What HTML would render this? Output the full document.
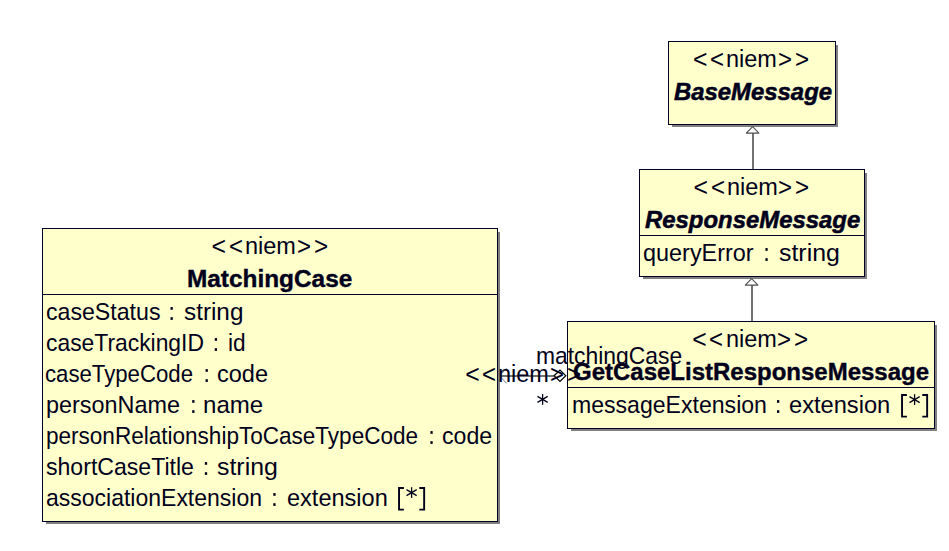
<!DOCTYPE html>
<html><head><meta charset="utf-8"><style>
html,body{margin:0;padding:0;background:#fff;width:949px;height:551px;overflow:hidden;position:relative}
.t{position:absolute;font-family:"Liberation Sans",sans-serif;font-size:24.8px;line-height:1;white-space:pre;color:#00001c;transform-origin:0 0}
.b{position:absolute;box-sizing:border-box;border:1px solid #000028;background:#ffffcc}
.s{position:absolute;background:#808080}
.d{position:absolute;height:1px;background:#000028}
svg{position:absolute;left:0;top:0}
</style></head><body>

<div class="s" style="left:836px;top:45px;width:2px;height:82px"></div>
<div class="s" style="left:672px;top:125px;width:166px;height:2px"></div>
<div class="b" style="left:668px;top:41px;width:168px;height:84px"></div>
<div class="s" style="left:865px;top:173px;width:2px;height:106px"></div>
<div class="s" style="left:643px;top:277px;width:224px;height:2px"></div>
<div class="b" style="left:639px;top:169px;width:226px;height:108px"></div>
<div class="d" style="left:639px;top:235px;width:226px"></div>
<div class="s" style="left:498px;top:232px;width:2px;height:292px"></div>
<div class="s" style="left:46px;top:522px;width:454px;height:2px"></div>
<div class="b" style="left:42px;top:228px;width:456px;height:294px"></div>
<div class="d" style="left:42px;top:294px;width:456px"></div>
<div class="s" style="left:935px;top:325px;width:2px;height:106px"></div>
<div class="s" style="left:571px;top:429px;width:366px;height:2px"></div>
<div class="b" style="left:567px;top:321px;width:368px;height:108px"></div>
<div class="d" style="left:567px;top:387px;width:368px"></div>
<div class="t" style="left:693.10px;top:46.60px;transform:scale(1.0000,1.0667)">&lt;</div>
<div class="t" style="left:710.23px;top:46.60px;transform:scale(0.9692,1.0667)">&lt;</div>
<div class="t" style="left:726.35px;top:47.00px;transform:scaleX(0.9471)">niem</div>
<div class="t" style="left:778.13px;top:46.60px;transform:scale(0.9692,1.0667)">&gt;</div>
<div class="t" style="left:795.12px;top:46.60px;transform:scale(0.9769,1.0667)">&gt;</div>
<div class="t" style="left:674.00px;top:80.00px;font-weight:bold;font-style:italic;-webkit-text-stroke:0.55px #00001c;transform:scaleX(0.9634)">BaseMessage</div>
<div class="t" style="left:693.40px;top:174.60px;transform:scale(1.0000,1.0667)">&lt;</div>
<div class="t" style="left:710.53px;top:174.60px;transform:scale(0.9692,1.0667)">&lt;</div>
<div class="t" style="left:726.65px;top:175.00px;transform:scaleX(0.9471)">niem</div>
<div class="t" style="left:778.43px;top:174.60px;transform:scale(0.9692,1.0667)">&gt;</div>
<div class="t" style="left:795.42px;top:174.60px;transform:scale(0.9769,1.0667)">&gt;</div>
<div class="t" style="left:645.00px;top:208.00px;font-weight:bold;font-style:italic;-webkit-text-stroke:0.55px #00001c;transform:scaleX(0.9641)">ResponseMessage</div>
<div class="t" style="left:642.56px;top:241.00px;transform:scaleX(0.9448)">queryError</div>
<div class="t" style="left:779.10px;top:241.00px;transform:scaleX(1.0034)">string</div>
<div class="t" style="left:211.50px;top:233.60px;transform:scale(1.0000,1.0667)">&lt;</div>
<div class="t" style="left:228.63px;top:233.60px;transform:scale(0.9692,1.0667)">&lt;</div>
<div class="t" style="left:244.75px;top:234.00px;transform:scaleX(0.9471)">niem</div>
<div class="t" style="left:296.53px;top:233.60px;transform:scale(0.9692,1.0667)">&gt;</div>
<div class="t" style="left:313.52px;top:233.60px;transform:scale(0.9769,1.0667)">&gt;</div>
<div class="t" style="left:186.52px;top:267.00px;font-weight:bold;-webkit-text-stroke:0.4px #00001c;transform:scaleX(0.9832)">MatchingCase</div>
<div class="t" style="left:45.67px;top:300.00px;transform:scaleX(0.9331)">caseStatus</div>
<div class="t" style="left:184.02px;top:300.00px;transform:scaleX(0.9793)">string</div>
<div class="t" style="left:45.68px;top:331.00px;transform:scaleX(0.9218)">caseTrackingID</div>
<div class="t" style="left:228.29px;top:331.00px;transform:scaleX(0.9118)">id</div>
<div class="t" style="left:45.41px;top:362.00px;transform:scaleX(0.8945)">caseTypeCode</div>
<div class="t" style="left:217.35px;top:362.00px;transform:scaleX(0.9481)">code</div>
<div class="t" style="left:46.06px;top:393.00px;transform:scaleX(0.9436)">personName</div>
<div class="t" style="left:203.43px;top:393.00px;transform:scaleX(0.9700)">name</div>
<div class="t" style="left:46.09px;top:424.00px;transform:scaleX(0.9088)">personRelationshipToCaseTypeCode</div>
<div class="t" style="left:442.37px;top:424.00px;transform:scaleX(0.9327)">code</div>
<div class="t" style="left:45.67px;top:455.00px;transform:scaleX(0.9306)">shortCaseTitle</div>
<div class="t" style="left:217.10px;top:455.00px;transform:scaleX(1.0034)">string</div>
<div class="t" style="left:45.87px;top:486.00px;transform:scaleX(0.9273)">associationExtension</div>
<div class="t" style="left:287.05px;top:486.00px;transform:scaleX(0.9490)">extension</div>
<div class="t" style="left:692.30px;top:326.60px;transform:scale(1.0000,1.0667)">&lt;</div>
<div class="t" style="left:709.43px;top:326.60px;transform:scale(0.9692,1.0667)">&lt;</div>
<div class="t" style="left:725.55px;top:327.00px;transform:scaleX(0.9471)">niem</div>
<div class="t" style="left:777.33px;top:326.60px;transform:scale(0.9692,1.0667)">&gt;</div>
<div class="t" style="left:794.32px;top:326.60px;transform:scale(0.9769,1.0667)">&gt;</div>
<div class="t" style="left:572.63px;top:360.00px;font-weight:bold;-webkit-text-stroke:0.4px #00001c;transform:scaleX(0.9676)">GetCaseListResponseMessage</div>
<div class="t" style="left:571.77px;top:393.00px;transform:scaleX(0.9304)">messageExtension</div>
<div class="t" style="left:789.35px;top:393.00px;transform:scaleX(0.9538)">extension</div>
<svg width="949" height="551" viewBox="0 0 949 551">
<rect x="752" y="133" width="2" height="36" fill="#727272"/>
<rect x="751" y="285" width="2" height="36" fill="#727272"/>
<rect x="500" y="375" width="54" height="2" fill="#727272"/>
<g stroke="#505050" stroke-width="1.1" stroke-linejoin="round" fill="#fff">
<polygon points="752.6,126.6 746.3,133.1 758.9,133.1"/>
<polygon points="751.6,278.6 745.3,285.1 757.9,285.1"/>
</g>
<polyline points="506.6,368.1 499.7,375.9 506.6,383.4" stroke="#7a7a7a" stroke-width="1" fill="none"/>
<path d="M403.90000000000003,487.1 H398.1 V510.6 H403.90000000000003 V508.8 H400.0 V488.90000000000003 H403.90000000000003 Z" fill="#00001c"/><path d="M419.3,487.1 H425.1 V510.6 H419.3 V508.8 H423.20000000000005 V488.90000000000003 H419.3 Z" fill="#00001c"/><g stroke="#00001c" stroke-width="1.3" fill="none"><line x1="411.6" y1="487.20000000000005" x2="411.6" y2="498.0"/><line x1="406.5" y1="489.6" x2="416.70000000000005" y2="495.6"/><line x1="406.5" y1="495.6" x2="416.70000000000005" y2="489.6"/></g><path d="M906.9,394.1 H901.1 V417.6 H906.9 V415.8 H903.0 V395.90000000000003 H906.9 Z" fill="#00001c"/><path d="M922.3000000000001,394.1 H928.1 V417.6 H922.3000000000001 V415.8 H926.2 V395.90000000000003 H922.3000000000001 Z" fill="#00001c"/><g stroke="#00001c" stroke-width="1.3" fill="none"><line x1="914.6" y1="394.20000000000005" x2="914.6" y2="405.0"/><line x1="909.5" y1="396.6" x2="919.7" y2="402.6"/><line x1="909.5" y1="402.6" x2="919.7" y2="396.6"/></g><rect x="765.40" y="248.1" width="2.3" height="2.7" fill="#00001c"/><rect x="765.40" y="258.2" width="2.3" height="2.7" fill="#00001c"/><rect x="170.50" y="307.1" width="2.3" height="2.7" fill="#00001c"/><rect x="170.50" y="317.2" width="2.3" height="2.7" fill="#00001c"/><rect x="214.75" y="338.1" width="2.3" height="2.7" fill="#00001c"/><rect x="214.75" y="348.2" width="2.3" height="2.7" fill="#00001c"/><rect x="205.55" y="369.1" width="2.3" height="2.7" fill="#00001c"/><rect x="205.55" y="379.2" width="2.3" height="2.7" fill="#00001c"/><rect x="192.20" y="400.1" width="2.3" height="2.7" fill="#00001c"/><rect x="192.20" y="410.2" width="2.3" height="2.7" fill="#00001c"/><rect x="430.40" y="431.1" width="2.3" height="2.7" fill="#00001c"/><rect x="430.40" y="441.2" width="2.3" height="2.7" fill="#00001c"/><rect x="204.85" y="462.1" width="2.3" height="2.7" fill="#00001c"/><rect x="204.85" y="472.2" width="2.3" height="2.7" fill="#00001c"/><rect x="273.30" y="493.1" width="2.3" height="2.7" fill="#00001c"/><rect x="273.30" y="503.2" width="2.3" height="2.7" fill="#00001c"/><rect x="777.00" y="400.1" width="2.3" height="2.7" fill="#00001c"/><rect x="777.00" y="410.2" width="2.3" height="2.7" fill="#00001c"/><g stroke="#00001c" stroke-width="1.3" fill="none"><line x1="542.6" y1="394.0" x2="542.6" y2="404.79999999999995"/><line x1="537.5" y1="396.4" x2="547.7" y2="402.4"/><line x1="537.5" y1="402.4" x2="547.7" y2="396.4"/></g>
<polygon points="554.1,375.8 560,370 565.8,375.8 560,381.5" fill="#fff" stroke="#000" stroke-width="1.2"/>
</svg>

<div class="t" style="left:465.20px;top:361.60px;transform:scale(1.0000,1.0667)">&lt;</div>
<div class="t" style="left:482.33px;top:361.60px;transform:scale(0.9692,1.0667)">&lt;</div>
<div class="t" style="left:498.45px;top:362.00px;transform:scaleX(0.9471)">niem</div>
<div class="t" style="left:550.23px;top:361.60px;transform:scale(0.9692,1.0667)">&gt;</div>
<div class="t" style="left:567.22px;top:361.60px;transform:scale(0.9769,1.0667)">&gt;</div>
<div class="t" style="left:536.48px;top:343.50px;transform:scaleX(0.9223)">matchingCase</div>
</body></html>
